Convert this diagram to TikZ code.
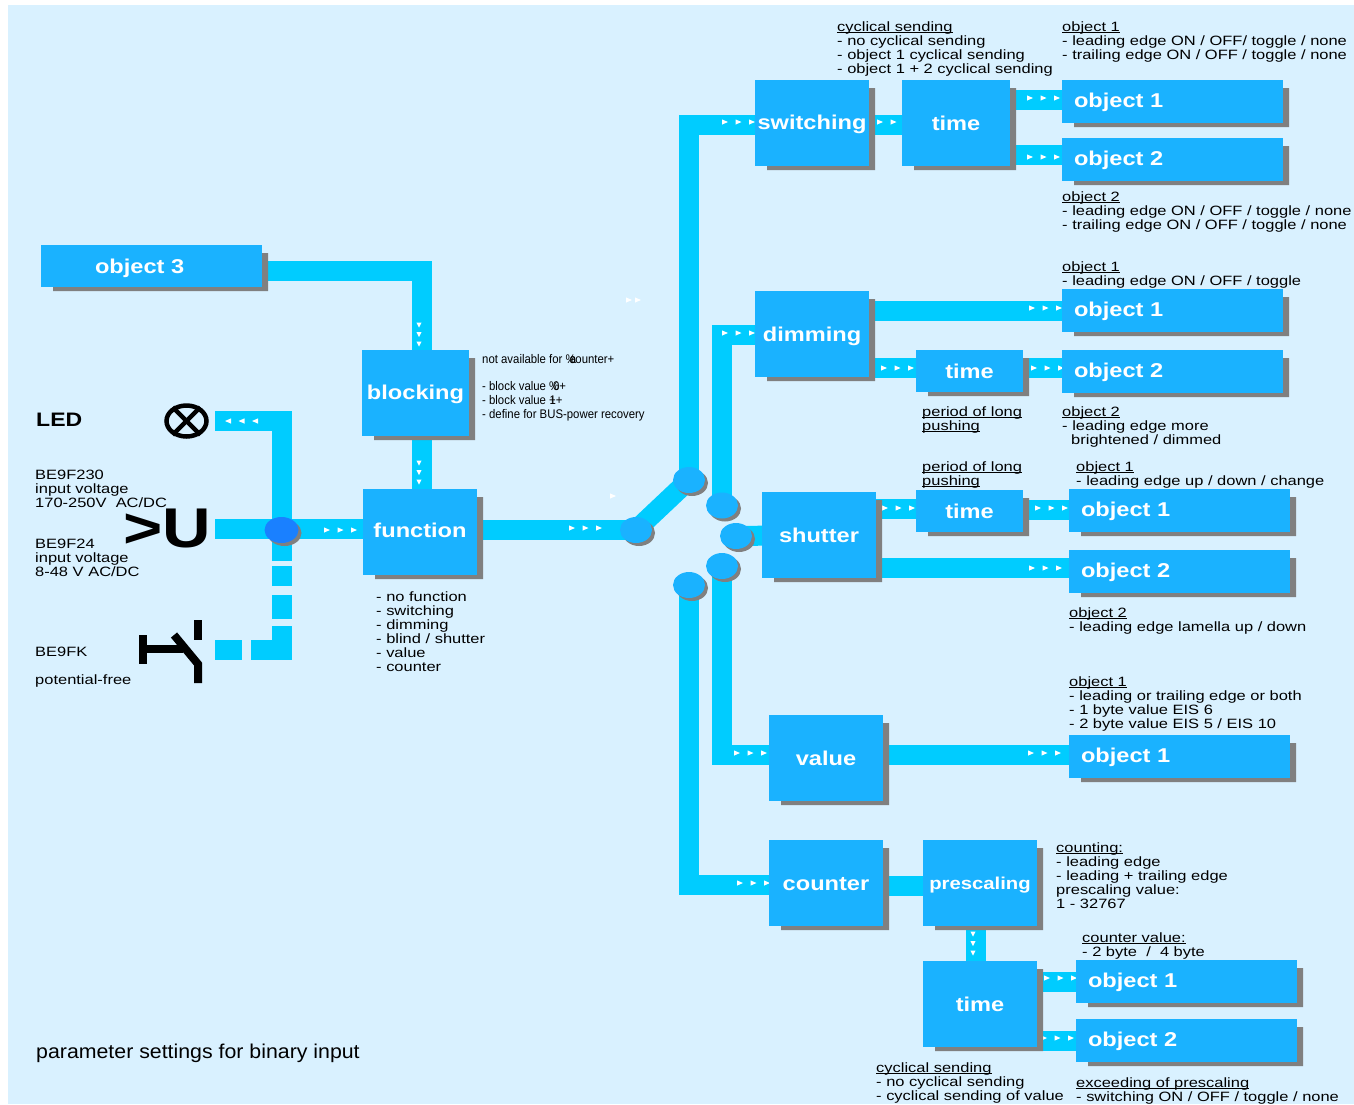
\documentclass[tikz,border=0pt]{standalone}
\usepackage{fontspec}
\setmainfont{Liberation Sans}
\newfontfamily\notefont[FakeStretch=1.22]{Liberation Sans}
\newfontfamily\titlefont[FakeStretch=1.066]{Liberation Sans}
\newfontfamily\narrowfont[FakeStretch=0.91]{Liberation Sans}
\newfontfamily\labelfont[FakeStretch=1.18]{Liberation Sans Bold}
\newfontfamily\bigfont[FakeStretch=1.2]{Liberation Sans Bold}
\usetikzlibrary{backgrounds, calc, shadows, shapes.geometric}
\definecolor{paneblue}{HTML}{D9F1FF}
\definecolor{wireblue}{HTML}{00CCFF}
\definecolor{boxblue}{HTML}{1AB2FF}
\definecolor{hotblue}{HTML}{1A80FF}
\definecolor{shadegray}{HTML}{808080}
\newcommand{\headline}[1]{\setbox0\hbox{#1}\rlap{\vrule width\wd0 height -0.6pt depth 1.6pt}\box0}
\tikzset{
    boxbase/.style={rectangle, fill=boxblue, text=white, anchor=north west, inner sep=0pt, outer sep=0pt,
        text height=14pt, text depth=0pt, font=\labelfont\fontsize{20}{22}\selectfont},
    blockbox/.style={boxbase, minimum width=114pt, minimum height=86pt, align=center},
    timebox/.style={boxbase, minimum width=107pt, minimum height=42pt, align=center},
    objbox/.style={boxbase, minimum width=221pt, minimum height=43pt, text width=197pt, text depth=2pt, align=left},
    hub/.style={ellipse, fill=boxblue, minimum width=32pt, minimum height=26pt, inner sep=0pt,
        drop shadow={shadow xshift=3pt, shadow yshift=-3pt, fill=shadegray, opacity=1}},
    wire/.style={draw=wireblue, line width=20pt},
    note/.style={anchor=north west, inner sep=0pt, yshift=-0.5pt, align=left, text=black,
        font=\notefont\fontsize{13.5}{14}\selectfont},
    pip/.pic={\fill[white] (-3,-2.6) -- (3,0) -- (-3,2.6) -- cycle;},
    pips/.pic={\foreach \d in {0,13.5,27} \fill[white] (\d-3,-2.6) -- (\d+3,0) -- (\d-3,2.6) -- cycle;},
    pipsdown/.pic={\foreach \d in {0,9.5,19} \fill[white] (-2.6,\d-2.5) -- (0,\d+2.5) -- (2.6,\d-2.5) -- cycle;}
}

\begin{document}
\begin{tikzpicture}[x=1pt, y=-1pt]
    \useasboundingbox (0,0) rectangle (1354,1104);
    \begin{pgfonlayer}{background}
        \fill[paneblue] (8,5) rectangle (1354,1104);
    \end{pgfonlayer}

    % input side
    \node[boxbase, minimum width=221pt, minimum height=42pt, text width=113pt, align=left] (object3) at (41,245) {object 3};
    \node[blockbox, minimum width=107pt, text depth=2pt] (blocking) at (362,350) {blocking};
    \node[blockbox, text depth=3.5pt] (function) at (363,489) {function};
    \node[ellipse, draw, line width=4.5pt, minimum width=40pt, minimum height=31pt, inner sep=0pt] (lamp) at (186.5,421) {};
    \draw[line width=4.5pt] (lamp.45) -- (lamp.225);
    \draw[line width=4.5pt] (lamp.135) -- (lamp.315);
    \node[inner sep=0pt, font=\bigfont\fontsize{56}{56}\selectfont] (voltage) at (167,528) {>U};
    \coordinate (ledEnd) at (215,420.5);
    \coordinate (voltEnd) at (215,529);
    \coordinate (contactEnd) at (215,650);
    \node[ellipse, fill=hotblue, minimum width=34pt, minimum height=26pt, inner sep=0pt,
        drop shadow={shadow xshift=3pt, shadow yshift=-3pt, fill=shadegray, opacity=1}] (junction) at (281.5,530) {};
    \draw[line width=8pt] (143,635) -- (143,664);
    \draw[line width=8pt] (143,649) -- (183,649);
    \draw[line width=8pt] (174,635) -- (198,664) -- (198,683);
    \draw[line width=8pt] (198,620) -- (198,640);

    % selector
    \node[hub] (hubIn) at (636,530) {};
    \node[hub] (hubSwitch) at (689,480) {};
    \node[hub] (hubDim) at (722,505.5) {};
    \node[hub] (hubShut) at (736,536) {};
    \node[hub] (hubValue) at (722,566) {};
    \node[hub] (hubCount) at (689,585) {};

    % switching
    \node[blockbox, text depth=2pt] (switching) at (755,80) {switching};
    \node[blockbox, minimum width=108pt] (timeA) at (902,80) {time};
    \node[objbox] (objA) at (1062,80) {object 1};
    \node[objbox] (objB) at (1062,138) {object 2};

    % dimming
    \node[blockbox] (dimming) at (755,291) {dimming};
    \node[timebox] (timeB) at (916,350) {time};
    \node[objbox] (objC) at (1062,289) {object 1};
    \node[objbox] (objD) at (1062,350) {object 2};

    % shutter
    \node[blockbox] (shutter) at (762,492) {shutter};
    \node[timebox] (timeC) at (916,490) {time};
    \node[objbox] (objE) at (1069,489) {object 1};
    \node[objbox] (objF) at (1069,550) {object 2};

    % value
    \node[blockbox] (value) at (769,715) {value};
    \node[objbox] (objG) at (1069,735) {object 1};

    % counter
    \node[blockbox] (counter) at (769,840) {counter};
    \node[blockbox, text depth=2pt, font=\labelfont\fontsize{17.2}{20}\selectfont] (prescaling) at (923,840) {prescaling};
    \node[blockbox] (timeD) at (923,961) {time};
    \node[objbox] (objH) at (1076,960) {object 1};
    \node[objbox] (objI) at (1076,1019) {object 2};

    % drop shadows of the boxes
    \foreach \n in {object3, blocking, function, switching, timeA, objA, objB, dimming, timeB, objC, objD,
        shutter, timeC, objE, objF, value, objG, counter, prescaling, timeD, objH, objI}
        \fill[shadegray] ($(\n.north east)+(0,8)$) -- ($(\n.north east)+(6,8)$) -- ($(\n.south east)+(6,4)$)
            -- ($(\n.south west)+(12,4)$) -- ($(\n.south west)+(12,0)$) -- (\n.south east) -- cycle;

    % notes
    \node[note] (noteCyclicA) at (837,21) {\headline{cyclical sending}\\- no cyclical sending\\- object 1 cyclical sending\\- object 1 + 2 cyclical sending};
    \node[note] (noteObjA) at (1062,21) {\headline{object 1}\\- leading edge ON / OFF/ toggle / none\\- trailing edge ON / OFF / toggle / none};
    \node[note] (noteObjB) at (1062,191) {\headline{object 2}\\- leading edge ON / OFF / toggle / none\\- trailing edge ON / OFF / toggle / none};
    \node[note] (noteObjC) at (1062,261) {\headline{object 1}\\- leading edge ON / OFF / toggle};
    \node[note] (notePeriodA) at (922,406) {\headline{period of long}\\\headline{pushing}};
    \node[note] (noteObjD) at (1062,406) {\headline{object 2}\\- leading edge more\\\hspace*{9pt}brightened / dimmed};
    \node[note] (notePeriodB) at (922,461) {\headline{period of long}\\\headline{pushing}};
    \node[note] (noteObjE) at (1076,461) {\headline{object 1}\\- leading edge up / down / change};
    \node[note] (noteObjF) at (1069,607) {\headline{object 2}\\- leading edge lamella up / down};
    \node[note] (noteObjG) at (1069,676) {\headline{object 1}\\- leading or trailing edge or both\\- 1 byte value EIS 6\\- 2 byte value EIS 5 / EIS 10};
    \node[note] (noteCounting) at (1056,842) {\headline{counting:}\\- leading edge\\- leading + trailing edge\\prescaling value:\\1 - 32767};
    \node[note] (noteCounter) at (1082,932) {\headline{counter value:}\\- 2 byte~~/~~4 byte};
    \node[note] (noteCyclicB) at (876,1062) {\headline{cyclical sending}\\- no cyclical sending\\- cyclical sending of value};
    \node[note] (noteExceed) at (1076,1077) {\headline{exceeding of prescaling}\\- switching ON / OFF / toggle / none};
    \node[note] (noteFunction) at (376,591) {- no function\\- switching\\- dimming\\- blind / shutter\\- value\\- counter};
    \node[note, font=\narrowfont\fontsize{12.5}{14}\selectfont] (noteBlock) at (482,354) {not available for \%\kern-6pt\rlap{a}counter+\\[13pt]- block value \%\llap{0}+\\- block value +\llap{1}+\\- define for BUS-power recovery};
    \node[note, font=\labelfont\fontsize{19.5}{20}\selectfont] (noteLed) at (36,412) {LED};
    \node[note] (noteHigh) at (35,469) {BE9F230\\input voltage\\170-250V\ \ AC/DC};
    \node[note] (noteLow) at (35,538) {BE9F24\\input voltage\\8-48 V AC/DC};
    \node[note] (noteContact) at (35,646) {BE9FK\\[14pt]potential-free};
    \node[note, font=\titlefont\fontsize{20}{22}\selectfont] (noteTitle) at (36,1043) {parameter settings for binary input};

    % connections behind the boxes
    \begin{pgfonlayer}{background}
        \draw[wire] ([yshift=-4.5pt]object3.center) -| ([xshift=6.5pt]blocking.center);
        \draw[wire] ([xshift=6.5pt]blocking.center) -- ([xshift=2pt]function.center);
        \draw[wire] (ledEnd) -| (junction.center);
        \draw[wire] (voltEnd) -- (voltEnd -| function.center);
        \draw[wire, dash pattern=on 27pt off 9pt on 54.5pt off 7pt on 24pt off 9pt on 20pt off 5pt on 40pt] (contactEnd) -| (junction.center);
        \draw[wire] (hubIn.center -| function.center) -- (hubIn.center);
        \draw[wire] (hubIn.center) -- (hubSwitch.center);
        \draw[wire] (hubSwitch.center) |- ([yshift=-2pt]switching.center);
        \draw[wire] ([yshift=-2pt]switching.center) -- ([yshift=-2pt]timeA.center);
        \draw[wire] (timeA.center) |- ([yshift=1.5pt]objA.center);
        \draw[wire] (timeA.center) |- ([yshift=4.5pt]objB.center);
        \draw[wire] (hubDim.center) |- ([yshift=-1pt]dimming.center);
        \draw[wire] (dimming.center) |- (objC.center);
        \draw[wire] (dimming.center) |- ([yshift=3pt]timeB.center);
        \draw[wire] (timeB.center) |- ([yshift=3.5pt]objD.center);
        \draw[wire] (hubShut.center) -- (shutter.center);
        \draw[wire] (shutter.center) |- ([yshift=2pt]timeC.center);
        \draw[wire] (timeC.center) |- ([yshift=1pt]objE.center);
        \draw[wire] (shutter.center) |- ([yshift=3.5pt]objF.center);
        \draw[wire] (hubValue.center) |- ([yshift=3pt]value.center);
        \draw[wire] (value.center) |- ([yshift=1.5pt]objG.center);
        \draw[wire] (hubCount.center) |- ([yshift=-2pt]counter.center);
        \draw[wire] ([yshift=-3pt]counter.center) -- ([yshift=-3pt]prescaling.center);
        \draw[wire] ([xshift=-4pt]prescaling.center) -- ([xshift=-4pt]timeD.center);
        \draw[wire] (timeD.center) |- (objH.center);
        \draw[wire] (timeD.center) |- (objI.center);
        % little flow marks
        \foreach \px/\py/\pr in {255/421/180, 327/530/0, 572/528/0,
            725/122/0, 880/122/0, 1030/98/0, 1030/157/0, 725/333/0, 1032/308/0, 884/368/0, 1034/368/0,
            885/508/0, 1038/508/0, 1032/568/0, 737/753/0, 1031/753/0, 740/883/0,
            1047/978/0, 1044/1038/0}
            \pic[rotate=\pr] at (\px,\py) {pips};
        \foreach \px/\py in {419/325, 419/463, 973/934}
            \pic at (\px,\py) {pipsdown};
        \pic at (629,300) {pip};
        \pic at (638,300) {pip};
        \pic at (613,496) {pip};
    \end{pgfonlayer}
\end{tikzpicture}
\end{document}
